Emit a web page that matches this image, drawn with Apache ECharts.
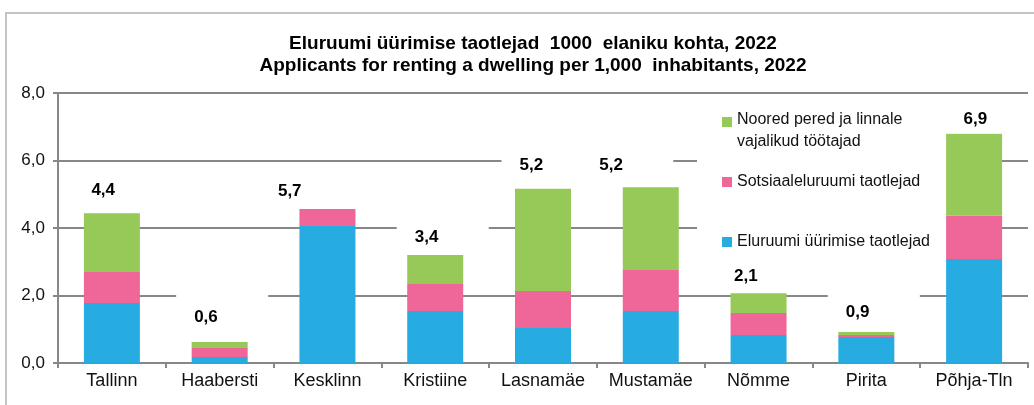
<!DOCTYPE html>
<html>
<head>
<meta charset="utf-8">
<script src="https://cdn.jsdelivr.net/npm/echarts@6/dist/echarts.min.js"></script>
<style>
  html, body { margin: 0; padding: 0; background: #fff; }
  #chart { width: 1034px; height: 405px; }
</style>
</head>
<body>
<div id="chart"></div>
<script>
// linnaosad
const categories = ['Tallinn', 'Haabersti', 'Kesklinn', 'Kristiine', 'Lasnamäe', 'Mustamäe', 'Nõmme', 'Pirita', 'Põhja-Tln'];
// taotlejad 1000 elaniku kohta
const rentApplicants = [1.78, 0.18, 4.06, 1.54, 1.04, 1.54, 0.83, 0.77, 3.08];
const socialApplicants = [0.92, 0.29, 0.50, 0.80, 1.09, 1.24, 0.65, 0.06, 1.28];
const youngFamilies = [1.74, 0.15, 0, 0.86, 3.03, 2.43, 0.59, 0.09, 2.45];
const totalLabels = ['4,4', '0,6', '5,7', '3,4', '5,2', '5,2', '2,1', '0,9', '6,9'];
const yTicks = [0, 2, 4, 6, 8];

const seriesNames = ['Eluruumi üürimise taotlejad', 'Sotsiaaleluruumi taotlejad', 'Noored pered ja linnale vajalikud töötajad'];
const colors = ['#27ace2', '#ef6698', '#96c957'];

// where the total label sits, text centre relative to bar centre / stack top (px)
const labelShift = [[-8, -22], [-13, -24], [-37, -17], [-8, -17], [-11, -23], [-39, -21], [-12, -16], [-8, -19], [2, -13]];
const padL = 18, padR = 50, padT = 16, padB = 5, textW = 24, textH = 18;

const stackTops = categories.map((c, i) => rentApplicants[i] + socialApplicants[i] + youngFamilies[i]);

const gray = '#878787';
const font = 'Liberation Sans, Arial, sans-serif';

const chart = echarts.init(document.getElementById('chart'));

function legendFor(name, top, icon, h) {
  return {
    data: [name],
    left: 722,
    top: top,
    padding: 0,
    orient: 'vertical',
    itemWidth: 10,
    itemHeight: h,
    itemGap: 0,
    icon: icon,
    selectedMode: false,
    formatter: n => n === seriesNames[2] ? 'Noored pered ja linnale\nvajalikud töötajad' : n,
    textStyle: { fontFamily: font, fontSize: 16, color: '#111', lineHeight: 22 }
  };
}

const option = {
  animation: false,
  color: colors,
  title: {
    text: 'Eluruumi üürimise taotlejad  1000  elaniku kohta, 2022\nApplicants for renting a dwelling per 1,000  inhabitants, 2022',
    left: 533,
    top: 33,
    padding: 0,
    textAlign: 'center',
    textStyle: { fontFamily: font, fontSize: 19, fontWeight: 'bold', color: '#000', lineHeight: 22 }
  },
  legend: [
    legendFor(seriesNames[2], 109, 'path://M0,0H10V10H0Z M0,28H0.01V28.01H0Z', 28),
    legendFor(seriesNames[1], 171, 'rect', 10),
    legendFor(seriesNames[0], 231, 'rect', 10)
  ],
  graphic: [
    { type: 'rect', shape: { x: 6, y: 13, width: 1100, height: 500 }, style: { fill: 'none', stroke: '#c4c4c4', lineWidth: 2 }, z: 0, silent: true },
    { type: 'rect', shape: { x: 697, y: 105, width: 250, height: 150 }, style: { fill: '#fff' }, z: 1, silent: true }
  ],
  grid: { left: 58, right: 6, top: 93, bottom: 42 },
  xAxis: {
    type: 'category',
    data: categories,
    axisLine: { lineStyle: { color: gray, width: 2 } },
    axisTick: { show: true, length: 5, lineStyle: { color: gray, width: 2 } },
    axisLabel: { interval: 0, fontFamily: font, fontSize: 18, color: '#111', margin: 9 }
  },
  yAxis: {
    type: 'value',
    min: yTicks[0],
    max: yTicks[yTicks.length - 1],
    interval: 2,
    axisLine: { show: true, lineStyle: { color: gray, width: 2 } },
    axisTick: { show: true, length: 5, lineStyle: { color: gray, width: 2 } },
    splitLine: { lineStyle: { color: gray, width: 2 } },
    axisLabel: {
      fontFamily: font, fontSize: 17, color: '#111', margin: 13,
      formatter: v => v.toFixed(1).replace('.', ',')
    }
  },
  series: [
    { name: seriesNames[0], type: 'bar', stack: 'total', barWidth: 56, data: rentApplicants, z: 2 },
    { name: seriesNames[1], type: 'bar', stack: 'total', barWidth: 56, data: socialApplicants, z: 2 },
    { name: seriesNames[2], type: 'bar', stack: 'total', barWidth: 56, data: youngFamilies, z: 2 },
    {
      name: 'kokku',
      type: 'scatter',
      symbolSize: 1,
      itemStyle: { color: 'rgba(0,0,0,0)' },
      z: 5,
      data: stackTops.map((v, i) => ({
        value: [i, v],
        label: {
          show: true,
          position: [labelShift[i][0] - textW / 2 - padL, labelShift[i][1] - textH / 2 - padT],
          formatter: () => totalLabels[i]
        }
      })),
      label: {
        fontFamily: font, fontSize: 17, fontWeight: 'bold', color: '#000', opacity: 1,
        lineHeight: textH, width: textW,
        backgroundColor: '#fff',
        padding: [padT, padR, padB, padL]
      }
    }
  ]
};

chart.setOption(option);
</script>
</body>
</html>
